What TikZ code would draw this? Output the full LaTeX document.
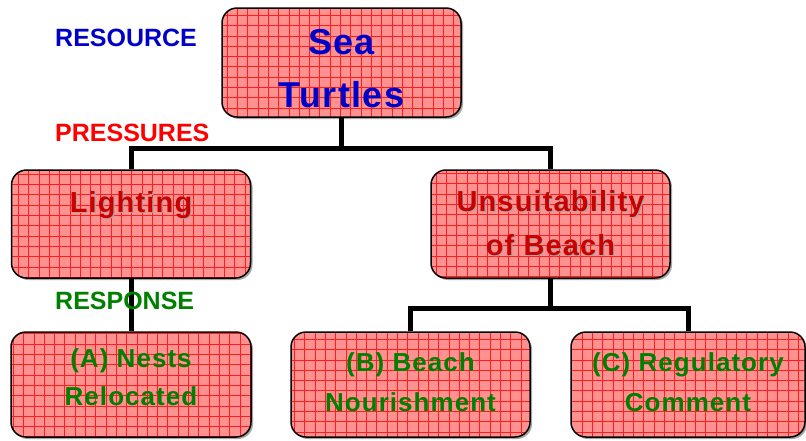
\documentclass[tikz,border=0pt]{standalone}
\usepackage{fontspec}
\setmainfont{Liberation Sans}
\newfontfamily\boxfont[LetterSpace=4]{Liberation Sans}
\definecolor{turtleBlue}{RGB}{0,0,200}
\definecolor{pressRed}{RGB}{255,0,0}
\definecolor{lightRed}{RGB}{200,0,0}
\definecolor{respGreen}{RGB}{0,128,0}
\definecolor{boxPink}{RGB}{255,145,145}
\definecolor{gridRed}{RGB}{255,30,30}
\usetikzlibrary{positioning,shadows}

\newcommand{\shtext}[1]{\leavevmode\rlap{\kern1.2pt\raisebox{-1.2pt}{\color{black!35}#1}}#1}
% extra room above / below a line of box text
\newcommand{\padtop}[2]{\raisebox{0pt}[\dimexpr\height+#1\relax]{#2}}
\newcommand{\padbot}[2]{\raisebox{0pt}[\height][\dimexpr\depth+#1\relax]{#2}}

\begin{document}
\begin{tikzpicture}[
  x=1pt, y=-1pt,
  gridbox/.style={draw=black, line width=1.5pt, rounded corners=15pt,
              fill=boxPink, minimum width=239pt, minimum height=108pt,
              inner sep=0pt, align=center,
              drop shadow={shadow xshift=2pt, shadow yshift=-2pt, fill=black!35, opacity=1},
              path picture={\draw[gridRed, line width=0.45pt]
                (path picture bounding box.south west) grid[step=10.3pt]
                (path picture bounding box.north east);}},
  conn/.style={line width=5pt, black},
  tag/.style={anchor=west, inner sep=0pt, font=\bfseries\fontsize{25}{30}\selectfont}
]
  \useasboundingbox (0,0) rectangle (806,440);

  % resource
  \node[gridbox, text=turtleBlue, minimum height=109pt,
        font=\boxfont\bfseries\fontsize{36}{53}\selectfont] (turtles) at (341.5,62.5)
        {\padtop{13pt}{Sea}\\Turtles};

  % pressures
  \node[gridbox, text=lightRed, font=\boxfont\bfseries\fontsize{29}{44}\selectfont]
        (lighting) at (131,224) {\shtext{Lighting}\\~};
  \node[gridbox, text=lightRed, font=\boxfont\bfseries\fontsize{29}{44}\selectfont]
        (beach) at (550.5,224) {\shtext{Unsuitability}\\\shtext{of Beach}};

  % responses
  \node[gridbox, text=respGreen, minimum height=105pt, minimum width=240pt,
        font=\boxfont\bfseries\fontsize{26}{38}\selectfont] (nests) at (131,384.5)
        {(A) Nests\\\padbot{14pt}{Relocated}};
  \node[gridbox, text=respGreen, minimum height=105pt,
        font=\boxfont\bfseries\fontsize{26}{40}\selectfont] (nourish) at (410.5,384.5)
        {(B) Beach\\\padbot{5pt}{Nourishment}};
  \node[gridbox, text=respGreen, minimum height=105pt, minimum width=234pt,
        font=\boxfont\bfseries\fontsize{26}{40}\selectfont] (comment) at (688,384.5)
        {(C) Regulatory\\\padbot{5pt}{Comment}};

  \coordinate (split1) at (341.5,148);
  \coordinate (split2) at (550.5,308);

  \draw[conn] (turtles.south) -- (split1);
  \draw[conn] (lighting.north) |- (split1) -| (beach.north);
  \draw[conn] (lighting.south) -- (nests.north);
  \draw[conn] (beach.south) -- (split2);
  \draw[conn] (nourish.north) |- (split2) -| (comment.north);

  \node[tag, text=turtleBlue] (resource) at (55,38)  {RESOURCE};
  \node[tag, text=pressRed]   (pressure) at (55,133) {PRESSURES};
  \node[tag, text=respGreen]  (response) at (55,301) {RESPONSE};
\end{tikzpicture}
\end{document}
